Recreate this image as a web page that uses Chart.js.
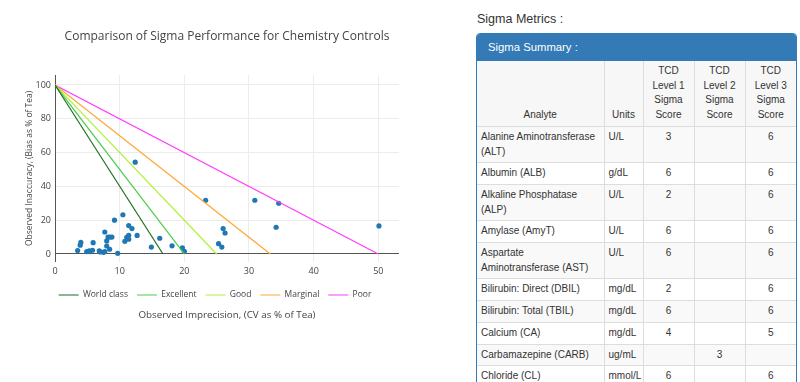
<!DOCTYPE html>
<html>
<head>
<meta charset="utf-8">
<script src="https://cdn.jsdelivr.net/npm/chart.js@4.4.1/dist/chart.umd.min.js"></script>
<style>
  body { margin: 0; width: 800px; height: 382px; overflow: hidden; background: #fff;
         font-family: "Liberation Sans", Arial, sans-serif; color: #333; }
  #chart-box { position: absolute; left: 0; top: 0; width: 450px; height: 321px; }
  #metrics { position: absolute; left: 476px; top: 0; width: 321px; }
  .metrics-title { font-size: 12.5px; line-height: 15px; margin: 12px 0 0 1px; }
  .panel { margin-top: 6px; border: 1px solid #337ab7; border-radius: 4px; overflow: hidden; }
  .panel-heading { background: #337ab7; color: #fff; font-size: 11.3px; height: 27px; line-height: 27px; padding-left: 11px; }
  table { border-collapse: collapse; table-layout: fixed; width: 319px; font-size: 10px; }
  th, td { border: 1px solid #ddd; padding: 3px 4px; line-height: 14.7px; vertical-align: top; }
  th { font-weight: normal; text-align: center; vertical-align: bottom; background: #f7f7f7; border-top: 0; }
  th:first-child, td:first-child { border-left: 0; }
  th:last-child, td:last-child { border-right: 0; }
  td.num { text-align: center; }
  tbody tr:nth-child(odd) td { background: #f9f9f9; }
</style>
</head>
<body>
<div id="chart-box"><canvas id="sigmaChart"></canvas></div>

<div id="metrics">
  <div class="metrics-title">Sigma Metrics :</div>
  <div class="panel">
    <div class="panel-heading">Sigma Summary :</div>
    <table>
      <colgroup>
        <col style="width:127px"><col style="width:39px"><col style="width:51px"><col style="width:51px"><col style="width:51px">
      </colgroup>
      <thead>
        <tr>
          <th>Analyte</th><th>Units</th>
          <th>TCD<br>Level 1<br>Sigma<br>Score</th>
          <th>TCD<br>Level 2<br>Sigma<br>Score</th>
          <th>TCD<br>Level 3<br>Sigma<br>Score</th>
        </tr>
      </thead>
      <tbody id="sigma-rows"></tbody>
    </table>
  </div>
</div>

<script>
// scatter points: imprecision (CV % of TEa) vs inaccuracy (bias % of TEa)
const CV_VALUES = [
  3.5, 3.9, 4.0, 4.9, 5.3, 5.4, 5.8, 5.9, 6.85, 7.0, 7.5, 7.7, 7.7, 8.0, 8.0,
  8.45, 8.2, 8.5, 8.8, 9.2, 9.7, 10.5, 10.8, 11.1, 11.4, 11.4, 11.4, 11.9, 12.4,
  12.7, 14.9, 16.2, 18.1, 19.7, 20.0, 23.3, 25.3, 25.8, 26.0, 26.3, 30.9, 34.6,
  34.2, 50.1
];
const BIAS_VALUES = [
  2.0, 5.2, 6.8, 1.4, 1.8, 1.4, 2.2, 6.7, 1.8, 1.2, 1.0, 1.4, 13.0, 7.7, 4.7,
  2.8, 10.0, 10.0, 10.0, 20.0, 0.4, 23.2, 7.5, 9.9, 11.0, 16.8, 8.7, 15.0, 54.3,
  11.0, 4.1, 9.3, 4.8, 3.6, 1.6, 31.8, 6.1, 4.1, 15.0, 12.4, 31.8, 30.0,
  15.8, 16.6
];

// sigma performance lines, from (0, TEa) down to the x-axis
const SIGMA_NAMES = ['World class', 'Excellent', 'Good', 'Marginal', 'Poor'];
const SIGMA_INTERCEPTS = [16.7, 20, 25, 33.3, 50];
const SIGMA_COLORS = ['#1e6e1e', '#4ccc4c', '#b2f03a', '#ffa630', '#ff3cff'];
const TEA_TOP = 100;

const X_TICKS = [0, 10, 20, 30, 40, 50];
const Y_TICKS = [0, 20, 40, 60, 80, 100];

// table
const ANALYTES = [
  'Alanine Aminotransferase (ALT)', 'Albumin (ALB)', 'Alkaline Phosphatase (ALP)',
  'Amylase (AmyT)', 'Aspartate Aminotransferase (AST)', 'Bilirubin: Direct (DBIL)',
  'Bilirubin: Total (TBIL)', 'Calcium (CA)', 'Carbamazepine (CARB)', 'Chloride (CL)'
];
const UNITS = ['U/L', 'g/dL', 'U/L', 'U/L', 'U/L', 'mg/dL', 'mg/dL', 'mg/dL', 'ug/mL', 'mmol/L'];
const LEVEL1 = ['3', '6', '2', '6', '6', '2', '6', '4', '', '6'];
const LEVEL2 = ['', '', '', '', '', '', '', '', '3', ''];
const LEVEL3 = ['6', '6', '6', '6', '6', '6', '6', '5', '', '6'];

const rowsEl = document.getElementById('sigma-rows');
ANALYTES.forEach((name, i) => {
  const tr = document.createElement('tr');
  [name, UNITS[i], LEVEL1[i], LEVEL2[i], LEVEL3[i]].forEach((text, c) => {
    const td = document.createElement('td');
    td.textContent = text;
    if (c > 1) td.className = 'num';
    tr.appendChild(td);
  });
  rowsEl.appendChild(tr);
});

const FONT = 'Open Sans';
const TEXT_COLOR = '#444';

const lineDatasets = SIGMA_NAMES.map((name, i) => ({
  label: name,
  data: [{ x: 0, y: TEA_TOP }, { x: SIGMA_INTERCEPTS[i], y: 0 }],
  showLine: true,
  borderColor: SIGMA_COLORS[i],
  backgroundColor: SIGMA_COLORS[i],
  borderWidth: 1.2,
  pointRadius: 0,
}));

const pointDataset = {
  label: 'Analytes',
  data: CV_VALUES.map((x, i) => ({ x, y: BIAS_VALUES[i] })),
  backgroundColor: '#1f77b4',
  borderWidth: 0,
  pointRadius: 2.6,
};

// shift the legend a bit left of the plot centre, like the original
const legendShift = {
  id: 'legendShift',
  afterLayout(chart) {
    chart.legend.left -= 12;
    chart.legend.right -= 12;
  },
};

function gridColor(ctx) {
  return ctx.tick && ctx.tick.value === 0 ? '#555' : '#ececec';
}

new Chart(document.getElementById('sigmaChart'), {
  type: 'scatter',
  data: { datasets: [...lineDatasets, pointDataset] },
  plugins: [legendShift],
  options: {
    responsive: true,
    maintainAspectRatio: false,
    animation: false,
    layout: { padding: { left: 0, right: 51, top: 0, bottom: 0 } },
    scales: {
      x: {
        min: 0,
        max: 53.2,
        afterBuildTicks: (scale) => { scale.ticks = X_TICKS.map((value) => ({ value })); },
        afterFit: (scale) => { scale.height = 20; },
        grid: { color: gridColor, drawTicks: false },
        border: { display: false },
        ticks: { padding: 4, color: TEXT_COLOR, font: { family: FONT, size: 9 } },
      },
      y: {
        min: -4.6,
        max: 105.9,
        afterBuildTicks: (scale) => { scale.ticks = Y_TICKS.map((value) => ({ value })); },
        afterFit: (scale) => { scale.width = 55; },
        grid: { color: gridColor, drawTicks: false },
        border: { display: true, color: '#555', width: 1 },
        ticks: { padding: 4, color: TEXT_COLOR, font: { family: FONT, size: 9 } },
        title: {
          display: true,
          text: 'Observed Inaccuracy, (Bias as % of Tea)',
          color: TEXT_COLOR,
          font: { family: FONT, size: 8.5 },
          padding: { top: 24, bottom: 0 },
        },
      },
    },
    plugins: {
      title: {
        display: true,
        text: 'Comparison of Sigma Performance for Chemistry Controls',
        color: TEXT_COLOR,
        font: { family: FONT, size: 12, weight: 'normal' },
        padding: { top: 29, bottom: 31.6 },
        fullSize: false,
      },
      subtitle: {
        display: true,
        position: 'bottom',
        text: 'Observed Imprecision, (CV as % of Tea)',
        color: TEXT_COLOR,
        font: { family: FONT, size: 9.8 },
        padding: { top: 0, bottom: 0 },
        fullSize: false,
      },
      legend: {
        position: 'bottom',
        fullSize: false,
        labels: {
          usePointStyle: true,
          pointStyle: 'line',
          pointStyleWidth: 20,
          padding: 9,
          color: TEXT_COLOR,
          font: { family: FONT, size: 8.5 },
          filter: (item) => item.datasetIndex < SIGMA_NAMES.length,
        },
      },
      tooltip: { enabled: false },
    },
  },
});
</script>
</body>
</html>
